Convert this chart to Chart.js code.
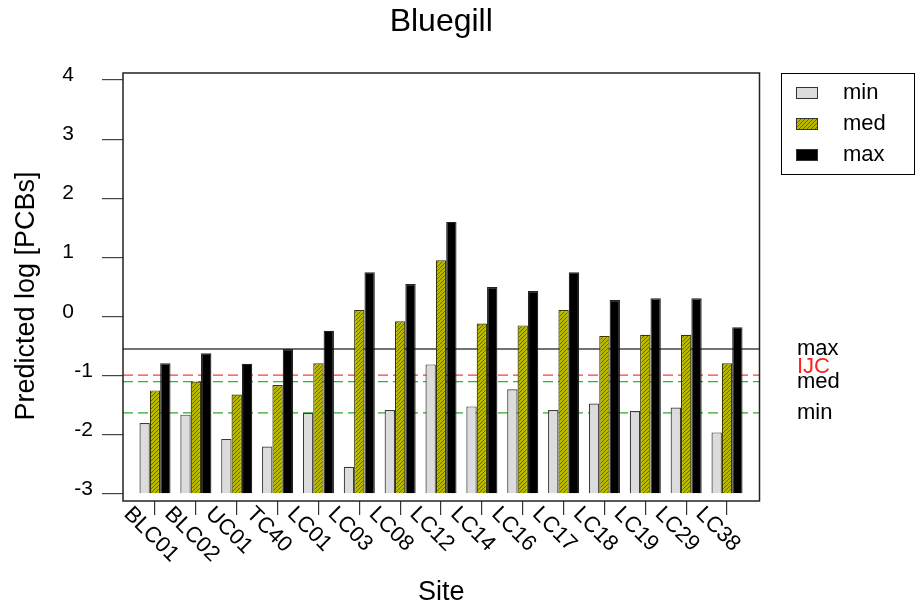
<!DOCTYPE html>
<html>
<head>
<meta charset="utf-8">
<title>Bluegill</title>
<script src="https://cdn.jsdelivr.net/npm/chart.js@4.4.1/dist/chart.umd.min.js"></script>
<style>
  html, body { margin: 0; padding: 0; background: #fff; }
  #wrap { width: 916px; height: 611px; position: relative; }
</style>
</head>
<body>
<div id="wrap"><canvas id="chart"></canvas></div>
<script>
const sites = ["BLC01", "BLC02", "UC01", "TC40", "LC01", "LC03", "LC08", "LC12", "LC14", "LC16", "LC17", "LC18", "LC19", "LC29", "LC38"];
const minVals = [-1.80, -1.66, -2.07, -2.20, -1.63, -2.54, -1.58, -0.81, -1.52, -1.23, -1.58, -1.47, -1.60, -1.54, -1.96];
const medVals = [-1.25, -1.10, -1.32, -1.16, -0.79, 0.11, -0.08, 0.95, -0.12, -0.15, 0.11, -0.33, -0.31, -0.31, -0.79];
const maxVals = [-0.79, -0.62, -0.80, -0.55, -0.24, 0.75, 0.55, 1.60, 0.50, 0.43, 0.75, 0.28, 0.31, 0.31, -0.18];
const yTicks = [-3, -2, -1, 0, 1, 2, 3, 4];

// horizontal reference levels drawn across the plot
const refLabels = ["max", "IJC", "med", "min"];
const refValues = [-0.55, -0.99, -1.10, -1.63];

const FONT = "'Liberation Sans', Arial, sans-serif";

function hatch(base, line) {
  const c = document.createElement("canvas");
  c.width = 4;
  c.height = 4;
  const g = c.getContext("2d");
  g.fillStyle = base;
  g.fillRect(0, 0, 4, 4);
  g.strokeStyle = line;
  g.lineWidth = 1;
  g.beginPath();
  g.moveTo(0, 4); g.lineTo(4, 0);
  g.moveTo(-1, 1); g.lineTo(1, -1);
  g.moveTo(3, 5); g.lineTo(5, 3);
  g.stroke();
  return g.createPattern(c, "repeat");
}

const olive = hatch("#b8b800", "#6a6a00");
const toXY = (vals) => vals.map((v, i) => ({ x: i + 1, y: v }));

const refStyles = {
  max: { color: "#444", dash: [], width: 1.5 },
  IJC: { color: "#ff3b3b", dash: [10, 5], width: 1.3 },
  med: { color: "#1fbf1f", dash: [10, 5], width: 1.3 },
  min: { color: "#2eaa2e", dash: [10, 5], width: 1.3 },
};

const extras = {
  id: "extras",
  beforeDatasetsDraw(chart) {
    const { ctx, chartArea: a, scales: { y } } = chart;
    ctx.save();
    refLabels.forEach((lab, i) => {
      const s = refStyles[lab];
      const py = y.getPixelForValue(refValues[i]);
      ctx.strokeStyle = s.color;
      ctx.lineWidth = s.width;
      ctx.setLineDash(s.dash);
      ctx.beginPath();
      ctx.moveTo(a.left, py);
      ctx.lineTo(a.right, py);
      ctx.stroke();
    });
    ctx.restore();
  },
  afterDraw(chart) {
    const { ctx, chartArea: a, scales: { x, y } } = chart;
    ctx.save();

    // frame
    ctx.strokeStyle = "#222";
    ctx.lineWidth = 1.5;
    ctx.strokeRect(a.left, a.top, a.right - a.left, a.bottom - a.top);

    // y tick labels
    ctx.fillStyle = "#000";
    ctx.font = `21px ${FONT}`;
    ctx.textAlign = "right";
    ctx.textBaseline = "alphabetic";
    yTicks.forEach((t) => {
      ctx.fillText(String(t), t < 0 ? 93 : 74, y.getPixelForValue(t) + 1);
    });

    // rotated site labels
    ctx.font = `22px ${FONT}`;
    ctx.textAlign = "left";
    sites.forEach((s, i) => {
      const px = x.getPixelForValue(i + 1);
      ctx.save();
      ctx.translate(px - 32, a.bottom + 14);
      ctx.rotate(Math.PI / 4);
      ctx.fillText(s, 0, 0);
      ctx.restore();
    });

    // y axis title
    ctx.save();
    ctx.font = `27px ${FONT}`;
    ctx.textAlign = "center";
    ctx.textBaseline = "middle";
    ctx.translate(27, 296);
    ctx.rotate(-Math.PI / 2);
    ctx.fillText("Predicted log [PCBs]", 0, 0);
    ctx.restore();

    // reference labels on the right
    ctx.font = `22px ${FONT}`;
    ctx.textBaseline = "middle";
    refLabels.forEach((lab, i) => {
      const py = y.getPixelForValue(refValues[i]);
      ctx.fillStyle = lab === "IJC" ? "#ff2020" : "#000";
      ctx.fillText(lab, 797, lab === "IJC" ? py - 8 : py);
    });

    // legend
    ctx.strokeStyle = "#000";
    ctx.lineWidth = 1;
    ctx.strokeRect(781.5, 73.5, 133, 101);
    chart.data.datasets.forEach((ds, i) => {
      const cy = 93 + i * 31;
      ctx.fillStyle = ds.backgroundColor;
      ctx.fillRect(796, cy - 6, 22, 12);
      ctx.strokeStyle = "#333";
      ctx.strokeRect(796.5, cy - 5.5, 21, 11);
      ctx.fillStyle = "#000";
      ctx.fillText(ds.label, 843, cy);
    });

    ctx.restore();
  },
};

new Chart(document.getElementById("chart"), {
  type: "bar",
  data: {
    datasets: [
      { label: "min", data: toXY(minVals), backgroundColor: "#dcdcdc", borderColor: "#3a3a3a" },
      { label: "med", data: toXY(medVals), backgroundColor: olive, borderColor: "#3a3a00" },
      { label: "max", data: toXY(maxVals), backgroundColor: "#000", borderColor: "#222" },
    ],
  },
  options: {
    responsive: true,
    maintainAspectRatio: false,
    animation: false,
    layout: { padding: { left: 0, right: 156.5, top: 0, bottom: 0 } },
    datasets: {
      bar: {
        base: -3,
        borderWidth: 1.2,
        categoryPercentage: 0.76,
        barPercentage: 1,
      },
    },
    plugins: {
      legend: { display: false },
      tooltip: { enabled: false },
      title: {
        display: true,
        text: "Bluegill",
        color: "#000",
        fullSize: false,
        font: { family: FONT, size: 32, weight: "normal", lineHeight: 1.2 },
        padding: { top: 3, bottom: 31.6 },
      },
    },
    scales: {
      x: {
        type: "linear",
        position: "bottom",
        min: 0.217,
        max: 15.795,
        offset: false,
        afterBuildTicks: (s) => {
          s.ticks = sites.map((_, i) => ({ value: i + 1 }));
        },
        afterFit: (s) => {
          s.height = 110;
        },
        grid: { offset: false, drawOnChartArea: false, tickLength: 14, color: "#333", lineWidth: 1.2 },
        border: { display: false },
        ticks: { display: false },
        title: {
          display: true,
          text: "Site",
          color: "#000",
          font: { family: FONT, size: 27, lineHeight: 1.2 },
          padding: { top: 0, bottom: 1.8 },
        },
      },
      y: {
        position: "left",
        min: -3.12,
        max: 4.118,
        afterBuildTicks: (s) => {
          s.ticks = yTicks.map((v) => ({ value: v }));
        },
        afterFit: (s) => {
          s.width = 123;
        },
        grid: { drawOnChartArea: false, tickLength: 21, color: "#444", lineWidth: 1.2 },
        border: { display: false },
        ticks: { display: false },
      },
    },
  },
  plugins: [extras],
});
</script>
</body>
</html>
